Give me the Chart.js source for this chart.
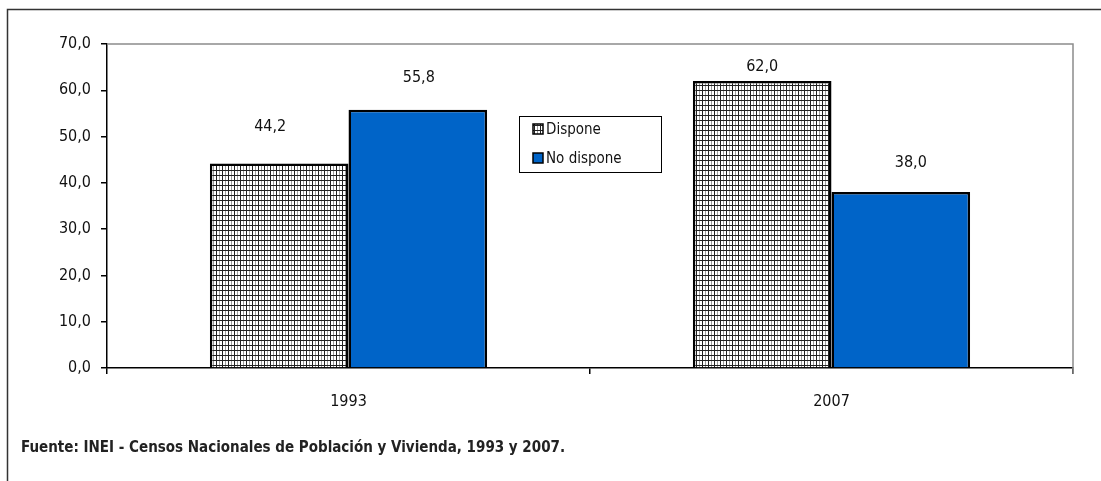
<!DOCTYPE html>
<html>
<head>
<meta charset="utf-8">
<script src="https://cdn.jsdelivr.net/npm/chart.js@4/dist/chart.umd.min.js"></script>
<style>
  html, body { margin: 0; padding: 0; background: #fff; }
  #wrap { position: relative; width: 1101px; height: 481px; }
</style>
</head>
<body>
<div id="wrap"><canvas id="grafico" width="1101" height="481"></canvas></div>
<script>
var anios = ['1993', '2007'];
var dispone = [44.2, 62.0];
var noDispone = [55.8, 38.0];
var ticksY = [0, 10, 20, 30, 40, 50, 60, 70];
var fuente = 'Fuente: INEI - Censos Nacionales de Población y Vivienda, 1993 y 2007.';

var fam = "'Liberation Sans Narrow', 'Arial Narrow', 'DejaVu Sans Condensed', sans-serif";

function coma(v)
{
    return v.toFixed(1).replace('.', ',');
}

var ctx = document.getElementById('grafico').getContext('2d');

// trama cuadriculada de la serie "Dispone"
function trama()
{
    var c = document.createElement('canvas');
    c.width = 6; c.height = 5;
    var g = c.getContext('2d');
    g.fillStyle = '#fff'; g.fillRect(0, 0, 6, 5);
    g.fillStyle = '#9a9a9a'; g.fillRect(3, 0, 1, 5);
    g.fillStyle = '#222'; g.fillRect(0, 0, 1, 5);
    g.fillRect(0, 0, 6, 1);
    return ctx.createPattern(c, 'repeat');
}
var patron = trama();

// desplazamiento manual de etiquetas [dx, dy desde el tope de la barra]
var desplaz = [[[-9, -37], [0, -14]], [[1, -32], [10, -29]]];

var extras = {
    id: 'extras',
    beforeDraw: function(chart)
    {
        var c = chart.ctx;
        c.save();
        c.fillStyle = '#fff';
        c.fillRect(0, 0, chart.width, chart.height);
        c.strokeStyle = '#333';
        c.lineWidth = 1.5;
        c.beginPath();
        c.moveTo(7.5, chart.height);
        c.lineTo(7.5, 9.5);
        c.lineTo(chart.width, 9.5);
        c.stroke();
        c.restore();
    },
    afterDatasetsDraw: function(chart)
    {
        var c = chart.ctx;
        var a = chart.chartArea;
        c.save();
        // borde gris del área de trazado
        c.strokeStyle = '#8c8c8c';
        c.lineWidth = 1.5;
        c.beginPath();
        c.moveTo(a.left, a.top);
        c.lineTo(a.right, a.top);
        c.lineTo(a.right, a.bottom + 6);
        c.stroke();

        // etiquetas de valores
        c.fillStyle = '#111';
        c.font = '16px ' + fam;
        c.textAlign = 'center';
        c.textBaseline = 'middle';
        chart.data.datasets.forEach(function(ds, i)
        {
            chart.getDatasetMeta(i).data.forEach(function(bar, j)
            {
                var d = desplaz[i][j];
                c.fillText(coma(ds.data[j]), bar.x + d[0], bar.y + d[1]);
            });
        });

        // leyenda
        var lx = 519, ly = 116, lw = 142, lh = 56;
        c.fillStyle = '#fff';
        c.fillRect(lx, ly, lw, lh);
        c.strokeStyle = '#000';
        c.lineWidth = 1;
        c.strokeRect(lx + 0.5, ly + 0.5, lw, lh);
        c.font = '15px ' + fam;
        c.textAlign = 'left';
        chart.data.datasets.forEach(function(ds, i)
        {
            var y = ly + 13 + i * 29;
            c.fillStyle = ds.backgroundColor;
            c.fillRect(533, y - 5, 10, 10);
            c.strokeStyle = '#000';
            c.lineWidth = 1.5;
            c.strokeRect(533, y - 5, 10, 10);
            c.fillStyle = '#111';
            c.fillText(ds.label, 546, y + 1);
        });

        // fuente
        c.font = 'bold 15px ' + fam;
        c.fillStyle = '#222';
        c.fillText(fuente, 21, 448);
        c.restore();
    }
};

var grafico = new Chart(ctx, {
    type: 'bar',
    data: {
        labels: anios,
        datasets: [
            {
                label: 'Dispone',
                data: dispone,
                backgroundColor: patron,
                borderColor: '#000',
                borderWidth: 2.5,
                borderSkipped: 'bottom'
            },
            {
                label: 'No dispone',
                data: noDispone,
                backgroundColor: '#0064c8',
                borderColor: '#000',
                borderWidth: 2.5,
                borderSkipped: 'bottom'
            }
        ]
    },
    options: {
        responsive: false,
        animation: false,
        layout: { padding: { top: 44, right: 28, bottom: 0, left: 0 } },
        datasets: { bar: { barPercentage: 1, categoryPercentage: 0.574 } },
        plugins: {
            legend: { display: false },
            tooltip: { enabled: false }
        },
        scales: {
            x: {
                afterFit: function(s) { s.height = 113; },
                grid: { offset: true, drawOnChartArea: false, tickLength: 6, color: '#000', lineWidth: 1.5 },
                border: { color: '#000', width: 1.5 },
                ticks: { color: '#111', padding: 18, font: { family: fam, size: 16 } }
            },
            y: {
                min: 0,
                max: 70,
                afterFit: function(s) { s.width = 107; },
                afterBuildTicks: function(s) { s.ticks = ticksY.map(function(v) { return { value: v }; }); },
                grid: { drawOnChartArea: false, tickLength: 6, color: '#000', lineWidth: 1.5 },
                border: { color: '#000', width: 1.5 },
                ticks: {
                    color: '#111',
                    padding: 10,
                    font: { family: fam, size: 16 },
                    callback: function(v) { return coma(v); }
                }
            }
        }
    },
    plugins: [extras]
});
</script>
</body>
</html>
